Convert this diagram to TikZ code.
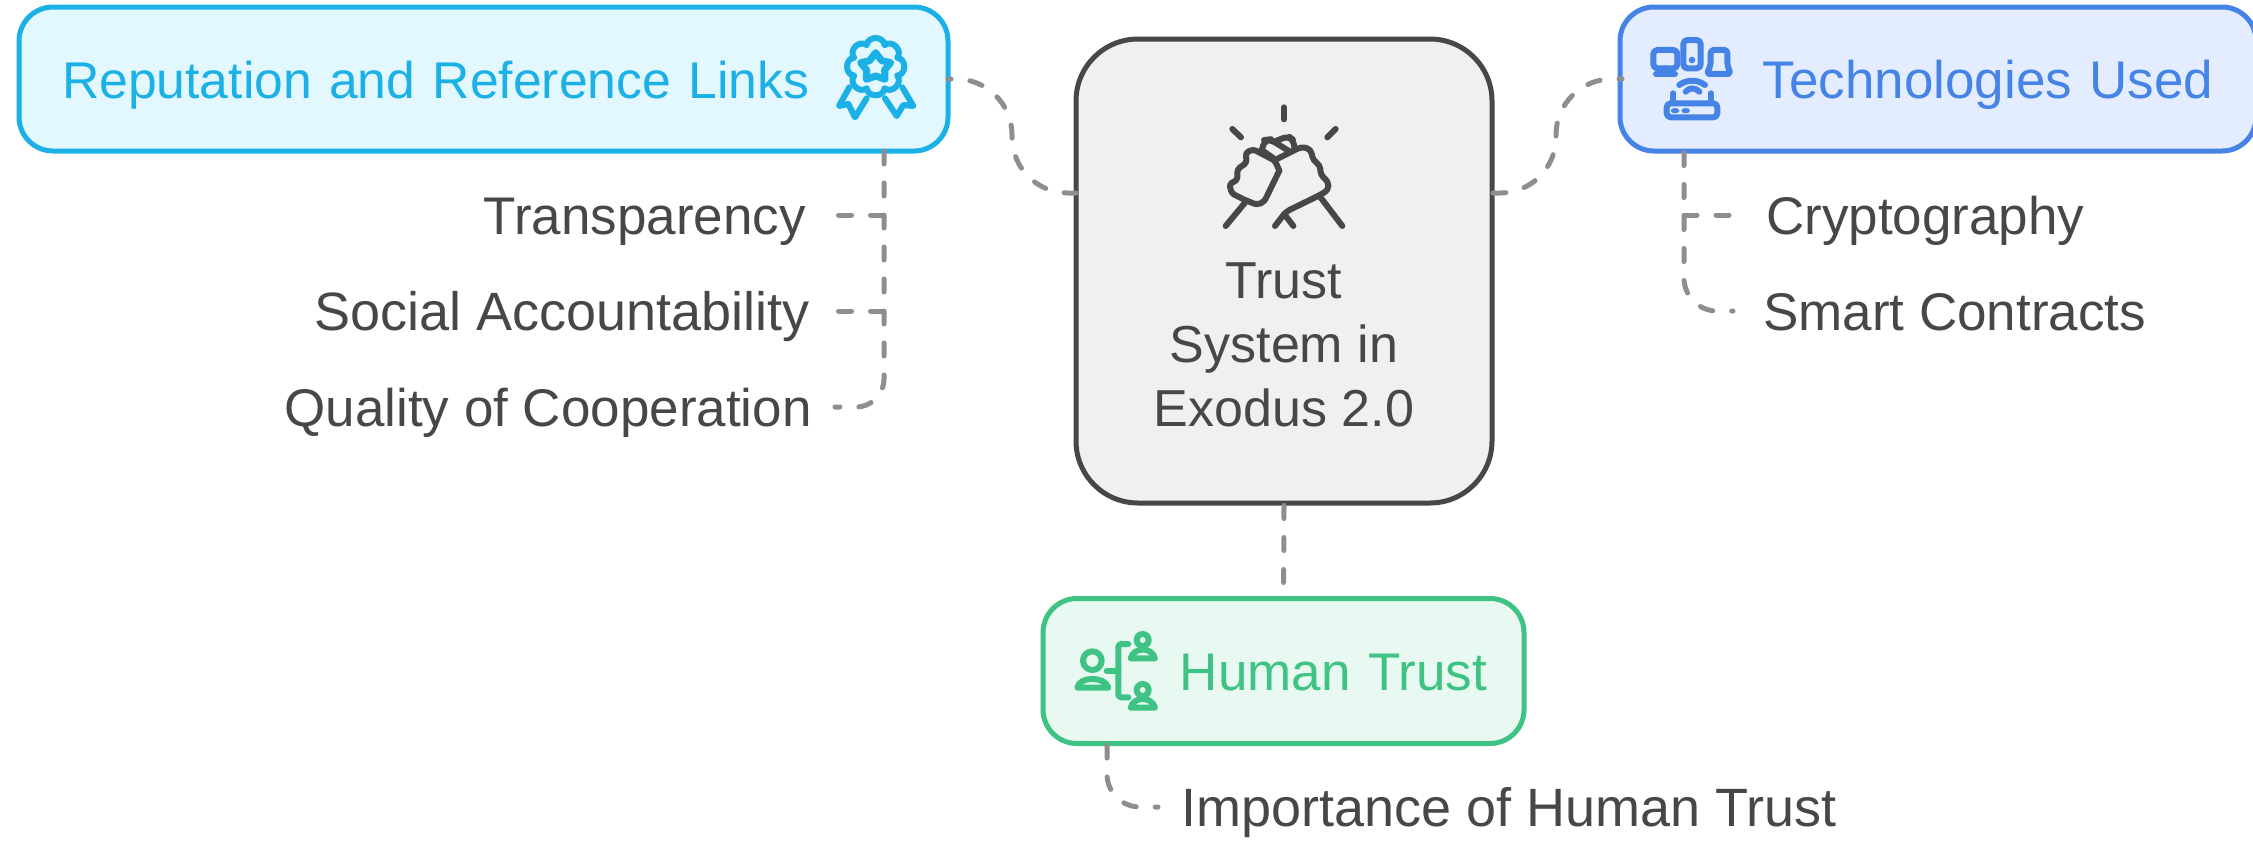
\documentclass[tikz,border=0pt]{standalone}
\usepackage{fontspec}
\setmainfont{Liberation Sans}
\definecolor{inkc}{HTML}{474747}
\definecolor{linec}{HTML}{8E8E8E}
\definecolor{repc}{HTML}{1BB1E7}
\definecolor{repf}{HTML}{E3F7FF}
\definecolor{tecc}{HTML}{4583E6}
\definecolor{tecf}{HTML}{E3EDFF}
\definecolor{humc}{HTML}{3EC384}
\definecolor{humf}{HTML}{E8F9F1}
\definecolor{cenf}{HTML}{F0F0F0}
\tikzset{
  boxbase/.style={rounded corners=34pt,line width=5pt,inner sep=0pt,font=\fontsize{53}{64}\selectfont,text height=44pt,text depth=6pt},
  leaf/.style={text=inkc,font=\fontsize{53}{64}\selectfont,text height=44pt,text depth=6pt,inner ysep=0pt},
  conn/.style={draw=linec,line width=5pt,line cap=round,dash pattern=on 13pt off 19pt,rounded corners=33pt},
  sconn/.style={conn,rounded corners=56pt,dash phase=10pt},
  ico/.style={line width=6pt,line cap=round,line join=round},
}
\begin{document}
\begin{tikzpicture}[x=1pt,y=-1pt]
\useasboundingbox[fill=white] (0,0) rectangle (2253,847);
% boxes
\node[boxbase,draw=repc,fill=repf,text=repc,font=\fontsize{51.7}{64}\selectfont,minimum width=929pt,minimum height=144pt,text width=843pt,align=left] (rep) at (483.5,79) {Reputation and Reference Links};
\node[boxbase,draw=tecc,fill=tecf,text=tecc,minimum width=636pt,minimum height=144pt,text width=551pt,align=right] (tec) at (1938,79) {Technologies Used};
\node[boxbase,draw=humc,fill=humf,text=humc,minimum width=481pt,minimum height=145pt,text width=407pt,align=right] (hum) at (1283.5,671) {Human Trust};
\node[boxbase,rounded corners=62pt,font=\fontsize{52}{64}\selectfont,text height=,text depth=,draw=inkc,fill=cenf,text=inkc,minimum width=416pt,minimum height=464pt,align=center] (cen) at (1284,271) {\rule{0pt}{184pt}Trust\\System in\\Exodus 2.0};
% leaves
\node[leaf,anchor=east,inner xsep=32.5pt] (t1) at (838.5,215) {Transparency};
\node[leaf,anchor=east,inner xsep=28.5pt,font=\fontsize{54}{64}\selectfont] (t2) at (838.5,311) {Social Accountability};
\node[leaf,anchor=east,inner xsep=23pt] (t3) at (835,407) {Quality of Cooperation};
\node[leaf,anchor=west,inner xsep=33pt] (c1) at (1733,215) {Cryptography};
\node[leaf,anchor=west,inner xsep=30pt] (c2) at (1733,311) {Smart Contracts};
\node[leaf,anchor=west,inner xsep=23pt,font=\fontsize{54}{64}\selectfont] (h1) at (1158,807) {Importance of Human Trust};
% anchors on box edges
\coordinate (rr) at (948,79);
\coordinate (rb) at (884,151);
\coordinate (tl) at (1622,79);
\coordinate (tb) at (1684,152.5);
\coordinate (hb) at (1107,745);
\coordinate (cl) at (1076,193);
\coordinate (cr) at (1492,193);
% connectors
\draw[sconn] (rr) -- (1012,79) |- (cl);
\draw[sconn] (tl) -- (1556,79) |- (cr);
\draw[conn] (cen.south) -- (hum.north);
\draw[conn,rounded corners=28pt] (rb) |- (t3.east);
\draw[conn] (t1.east) -- (t1.east -| rb);
\draw[conn] (t2.east) -- (t2.east -| rb);
\draw[conn] (tb) |- (c2.west);
\draw[conn] (tb |- c1.west) -- (c1.west);
\draw[conn] (hb) |- (h1.west);
% rosette icon
\begin{scope}[shift={(780,0)},x=0.3333pt,y=-0.3333pt,ico,draw=repc]
  \draw ({287+70*sin(-22.5)},{200-70*cos(-22.5)})
    \foreach \a in {-22.5,22.5,...,292.5} {
      .. controls ({287+96*sin(\a+8)},{200-96*cos(\a+8)}) and ({287+96*sin(\a+37)},{200-96*cos(\a+37)}) .. ({287+70*sin(\a+45)},{200-70*cos(\a+45)})
    } -- cycle;
  \draw[line width=7pt] (287,158) -- (305,182) -- (332,188) -- (314,210) -- (315,238) -- (287,228) -- (259,238) -- (260,210) -- (242,188) -- (269,182) -- cycle;
  \draw (208,262) -- (177,318) -- (205,312) -- (225,352) -- (260,295);
  \draw (367,262) -- (400,318) -- (370,315) -- (350,348) -- (315,295);
\end{scope}
% handshake icon
\begin{scope}[shift={(1150,100)},x=0.3333pt,y=-0.3333pt,ico,draw=inkc]
  \draw (402,22) -- (402,58);
  \draw (247,87) -- (273,112);
  \draw (557,87) -- (532,112);
  \draw (227,378) -- (285,308);
  \draw[rounded corners=3pt] (285,300) -- (245,280) -- (238,252) -- (262,240) -- (262,208) -- (290,188) -- (287,158) -- (310,148) -- (375,182) -- (388,212);
  \draw (388,212) -- (350,290) .. controls (342,310) and (325,318) .. (305,308) -- (285,300);
  \draw[rounded corners=6pt] (335,150) -- (345,120) -- (360,118) -- (420,155);
  \draw (335,150) -- (375,178);
  \draw[rounded corners=6pt] (375,124) -- (415,108) -- (432,122) -- (433,145);
  \draw[rounded corners=4pt] (385,175) -- (455,140) -- (482,148) -- (490,182) -- (510,195) -- (512,225) -- (535,245) -- (535,270) -- (510,285) -- (408,335) -- (375,378);
  \draw (405,345) -- (430,378);
  \draw (510,290) -- (577,378);
\end{scope}
% devices icon
\begin{scope}[shift={(1620,0)},x=0.3333pt,y=-0.3333pt,ico,draw=tecc]
  \draw[rounded corners=4pt] (100,150) rectangle (172,205);
  \draw (108,222) -- (165,222);
  \draw (136,205) -- (136,222);
  \draw[rounded corners=4pt] (190,120) rectangle (242,205);
  \fill[tecc] (216,180) circle[radius=10];
  \draw[rounded corners=3pt] (272,195) -- (272,150) -- (322,150) -- (322,195) -- (332,222) -- (260,222) -- cycle;
  \draw[rounded corners=4pt] (140,310) rectangle (292,352);
  \draw (160,280) -- (160,310);
  \draw (272,280) -- (272,310);
  \fill[tecc] (165,332) ellipse[x radius=13,y radius=8];
  \fill[tecc] (197,332) ellipse[x radius=13,y radius=8];
  \draw (178,255) .. controls (200,238) and (232,238) .. (255,255);
  \draw (197,275) .. controls (208,262) and (226,262) .. (238,275);
\end{scope}
% people icon
\begin{scope}[shift={(1040,590)},x=0.3333pt,y=-0.3333pt,ico,draw=humc]
  \draw (157,212) circle[radius=28];
  \draw (112,293) .. controls (118,258) and (195,258) .. (205,293) -- cycle;
  \draw (200,242) -- (235,242);
  \draw[rounded corners=3pt] (265,162) -- (235,162) -- (235,322) -- (265,322);
  \draw (308,150) circle[radius=18];
  \draw (272,205) .. controls (282,170) and (335,170) .. (345,205) -- cycle;
  \draw (308,300) circle[radius=18];
  \draw (272,353) .. controls (282,318) and (335,318) .. (345,353) -- cycle;
\end{scope}
\end{tikzpicture}
\end{document}
